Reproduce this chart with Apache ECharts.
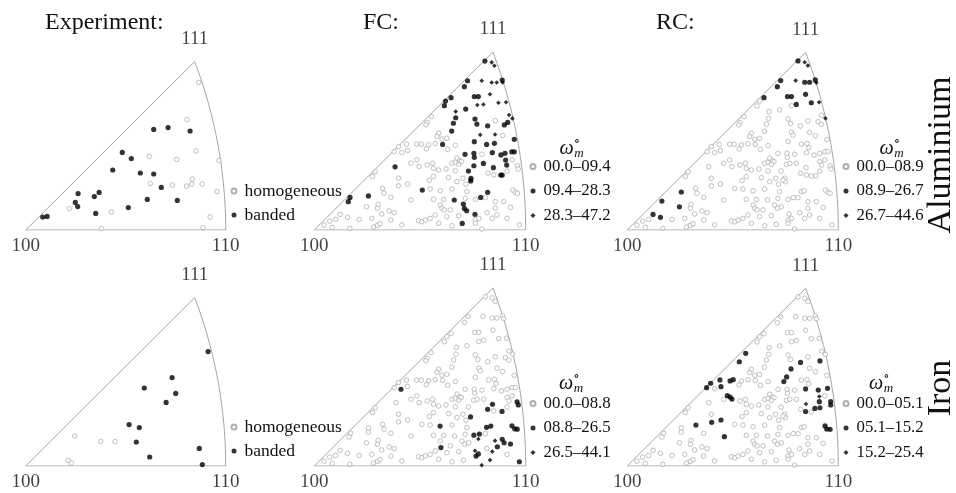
<!DOCTYPE html>
<html>
<head>
<meta charset="utf-8">
<script src="https://cdn.jsdelivr.net/npm/echarts@6/dist/echarts.min.js"></script>
<style>
  html, body { margin: 0; padding: 0; background: #fff; }
  #chart { width: 956px; height: 493px; }
</style>
</head>
<body>
<div id="chart"></div>
<script>
// triangle units: 100 -> (0,0), 110 -> (100,0), 111 -> TOP111
const TOP111 = [84.5, 84.2];

// experiment, aluminium
const expAlHomogeneous = [[86.5,73.8],[80.7,55.2],[85.2,39.5],[96.7,34.8],[61.8,36.8],[75.5,35.3],[62.3,23.3],[73.3,22.5],[80.5,22.0],[83.0,23.0],[83.3,25.5],[88.2,23.0],[95.7,19.2],[21.8,10.7],[42.8,9.0],[92.2,6.5],[37.8,0.8],[88.7,1.2]];
const expAlBanded = [[64.0,50.3],[71.2,51.2],[82.2,49.5],[48.3,38.8],[52.8,35.7],[43.5,30.0],[57.3,28.5],[64.0,28.0],[67.8,21.3],[26.2,18.2],[36.7,18.8],[34.3,16.7],[24.8,13.8],[26.0,11.7],[35.0,8.3],[51.3,11.2],[60.8,15.3],[75.8,14.8],[8.5,6.5],[10.7,6.8]];
// experiment, iron
const expFeHomogeneous = [[24.5,15.0],[37.5,12.3],[44.7,12.2],[21.3,2.8],[22.8,1.5]];
const expFeBanded = [[91.2,57.2],[73.2,44.2],[59.3,39.0],[75.0,36.3],[70.2,31.8],[51.7,20.7],[56.8,19.2],[55.3,12.0],[86.8,8.8],[62.0,4.5],[88.3,0.7]];

// simulated grains: same orientations in all FC / RC panels
const grains = [
  [39.8,39.5],[37.8,37.1],[41.4,36.6],[44.1,37.6],[43.6,40.6],[45.7,31.6],[38.6,30.0],[28.8,27.6],[27.5,25.3],[39.8,24.5],
  [39.8,20.9],[44.1,21.8],[32.3,19.7],[33.0,17.4],[36.2,15.5],[25.6,16.1],[45.7,14.2],[17.2,15.5],[30.2,12.1],[29.9,10.3],
  [35.4,9.0],[37.8,8.2],[31.9,7.6],[36.2,4.7],[27.2,5.5],[21.2,5.0],[7.3,4.2],[10.1,5.0],[4.6,2.3],[8.5,1.2],
  [16.8,0.8],[28.0,1.4],[29.9,2.2],[31.1,3.0],[41.4,2.4],[25.6,18.0],[16.4,13.7],[24.7,11.0],[12.2,7.4],[15.7,6.0],
  [77.8,58.9],[62.7,61.2],[67.2,56.1],[72.2,56.9],[55.3,53.7],[53.4,50.9],[52.8,49.8],[67.0,52.9],[65.9,50.2],[76.2,52.6],
  [77.4,50.4],[85.6,51.7],[90.4,51.3],[92.0,50.1],[58.8,45.8],[58.0,44.3],[60.4,43.0],[62.7,43.4],[77.8,46.3],[78.5,45.0],
  [86.4,46.3],[89.1,44.7],[48.5,40.6],[50.6,40.6],[54.1,40.3],[53.0,38.4],[57.2,40.9],[63.1,38.2],[66.7,40.0],[76.2,41.9],
  [82.5,40.7],[86.0,39.0],[67.5,34.0],[68.7,32.7],[71.4,36.3],[75.7,36.3],[75.9,34.4],[79.3,35.9],[84.9,36.6],[88.5,35.5],
  [91.2,36.3],[93.6,37.1],[95.1,37.1],[48.5,33.2],[49.6,30.0],[53.4,30.8],[56.0,31.6],[56.4,29.2],[65.1,31.6],[66.7,32.1],
  [69.5,32.4],[68.3,31.1],[75.4,31.1],[77.0,31.6],[80.1,31.6],[91.2,32.4],[92.1,30.8],[93.6,33.2],[58.8,28.4],[62.3,28.9],
  [66.7,28.0],[74.6,24.5],[74.9,22.9],[73.8,23.7],[82.2,26.9],[84.9,26.1],[87.2,25.6],[89.3,25.7],[91.2,27.9],[54.4,23.4],
  [56.4,25.3],[63.5,24.8],[67.5,22.9],[70.3,24.5],[71.7,21.7],[50.9,19.7],[54.8,19.4],[59.6,18.6],[65.1,19.4],[72.2,18.2],
  [82.5,18.2],[83.8,18.6],[93.9,18.9],[95.1,17.8],[56.4,14.5],[61.2,14.5],[66.4,14.2],[71.4,15.0],[76.2,14.5],[80.9,15.3],
  [85.6,13.4],[89.6,13.4],[92.8,10.7],[59.6,11.8],[60.4,10.3],[61.5,9.5],[64.3,9.5],[69.8,11.8],[71.1,10.3],[73.0,11.0],
  [85.6,10.3],[54.8,5.5],[57.2,7.1],[62.7,6.3],[68.3,6.8],[76.6,7.6],[81.7,8.2],[86.4,7.1],[84.1,5.5],[49.3,4.4],
  [50.9,3.9],[52.5,4.7],[58.8,3.2],[65.1,2.0],[70.6,2.7],[76.2,4.7],[76.2,3.2],[77.8,5.5],[91.2,5.5],[97.0,2.4],
  [79.3,0.5],[80.9,80.1],[72.7,70.8],[84.1,70.0],[86.4,70.0],[89.1,71.1],[71.1,67.9],[75.9,63.2],[77.8,63.2],[84.5,64.3],
  [64.8,62.7],[80.1,59.5],[87.2,60.3],[84.1,79.5],[85.6,77.9],[79.8,70.8],[89.6,69.8],[90.9,60.5],[93.9,52.9],[61.5,58.8],
  [65.0,46.8],[92.1,54.4],[82.0,49.3],[94.6,42.9],[60.7,40.5],[72.9,27.9],[84.7,29.5],[78.7,15.4],[96.1,30.4],[96.5,28.9],
  [96.1,17.4],[85.2,41.0]
];

// FC aluminium
const fcAlBins = ['00.0–09.4', '09.4–28.3', '28.3–47.2'];
const fcAlMid = [[80.7,79.9],[72.5,70.6],[88.9,70.9],[71.0,67.8],[75.7,63.1],[77.6,63.1],[64.7,62.6],[62.1,61.0],[61.5,58.8],[71.6,57.2],[66.9,53.1],[65.8,50.5],[65.0,46.8],[76.0,52.5],[76.9,50.1],[91.5,50.9],[89.9,49.7],[82.0,49.3],[94.6,42.9],[81.5,40.5],[85.2,41.0],[60.7,40.5],[75.7,41.8],[71.3,35.8],[75.5,36.3],[75.7,34.4],[84.2,36.6],[88.3,35.5],[90.2,36.3],[93.4,37.0],[94.6,37.0],[90.5,33.1],[91.0,30.7],[80.0,31.5],[75.5,30.4],[72.9,27.9],[84.7,29.5],[88.2,26.0],[88.9,26.0],[74.1,24.4],[74.0,23.2],[82.0,17.8],[78.7,15.4],[51.1,18.9],[66.2,14.2],[70.5,12.3],[71.0,10.2],[72.1,9.1],[76.0,7.4],[70.0,3.1],[38.2,29.9],[16.9,15.4],[16.1,13.4],[25.6,16.1]];
const fcAlHigh = [[83.9,79.3],[85.2,77.7],[79.2,70.6],[83.9,69.8],[86.3,69.8],[89.1,69.8],[83.1,64.2],[80.0,59.4],[77.1,59.1],[87.1,60.2],[90.7,60.4],[66.9,56.0],[92.1,54.4],[93.7,52.8],[85.5,45.2],[78.5,45.0]];
// RC aluminium
const rcAlBins = ['00.0–08.9', '08.9–26.7', '26.7–44.6'];
const rcAlMid = [[80.9,80.1],[72.7,70.8],[84.1,70.0],[86.4,70.0],[89.1,71.1],[71.1,67.9],[75.9,63.2],[77.8,63.2],[84.5,64.3],[64.8,62.7],[80.1,59.5],[87.2,60.3],[25.6,18.0],[16.4,13.7],[24.7,11.0],[12.2,7.4],[15.7,6.0]];
const rcAlHigh = [[84.1,79.5],[85.6,77.9],[79.8,70.8],[89.6,69.8],[90.9,60.5],[93.9,52.9]];
// FC iron
const fcFeBins = ['00.0–08.8', '08.8–26.5', '26.5–44.1'];
const fcFeMid = [[41.0,36.3],[95.9,30.4],[96.5,28.9],[84.3,29.2],[82.0,26.8],[88.8,25.8],[73.9,23.2],[59.5,18.9],[75.5,14.6],[78.1,15.1],[81.5,18.3],[83.5,18.9],[93.5,19.0],[94.8,17.6],[96.0,17.4],[88.9,12.6],[89.8,11.0],[86.6,9.1],[92.8,10.4],[59.9,8.7],[77.6,5.7],[76.5,4.7],[97.0,2.0]];
const fcFeHigh = [[77.6,12.8],[85.5,12.0],[76.0,7.2],[84.2,6.8],[83.1,2.8],[79.2,0.4]];
// RC iron
const rcFeBins = ['00.0–05.1', '05.1–15.2', '15.2–25.4'];
const rcFeMid = [[56.1,53.4],[53.1,49.4],[82.1,49.1],[91.3,49.8],[77.6,46.0],[75.5,42.2],[74.2,40.0],[39.5,39.2],[43.9,40.8],[48.7,40.3],[50.2,40.9],[44.4,37.6],[37.6,37.1],[84.5,36.5],[90.5,36.0],[94.9,36.8],[47.4,33.3],[48.7,32.7],[49.6,31.7],[91.0,30.5],[91.3,27.6],[88.9,27.3],[84.5,25.8],[96.4,30.5],[96.4,28.9],[32.5,19.4],[40.0,20.7],[44.4,21.8],[46.0,13.9],[93.7,19.0],[94.5,17.5],[96.1,17.4]];
const rcFeHigh = [[84.7,29.4],[91.0,32.9]];

const expNames = ['homogeneous', 'banded'];

const SERIF = '"Liberation Serif", "DejaVu Serif", serif';
const INK = '#111';
const GREY = '#9a9a9a';

// grains that are not drawn filled in a panel are drawn open
function openGrains(filled) {
  return grains.filter(g => !filled.some(p => Math.hypot(p[0] - g[0], p[1] - g[1]) < 2.2));
}

// outline of the standard triangle, right side is a circular arc 110 -> 111
const cx = (10000 - TOP111[0] * TOP111[0] - TOP111[1] * TOP111[1]) / (200 - 2 * TOP111[0]);
const rad = 100 - cx;
const endAng = Math.atan2(TOP111[1], TOP111[0] - cx);
const edge = [[0, 0], [100, 0]];
for (let i = 1; i < 40; i++) {
  const a = endAng * i / 40;
  edge.push([cx + rad * Math.cos(a), rad * Math.sin(a)]);
}
edge.push(TOP111, [0, 0]);

const panels = [
  { grid: { left: 25.7, top: 61.6, width: 200, height: 168.4 }, exp: [expAlHomogeneous, expAlBanded], legend: [230.5, 182] },
  { grid: { left: 314.3, top: 52, width: 211.4, height: 178 }, bins: fcAlBins, mid: fcAlMid, high: fcAlHigh, legend: [529.5, 158] },
  { grid: { left: 627.3, top: 52.3, width: 211, height: 177.7 }, bins: rcAlBins, mid: rcAlMid, high: rcAlHigh, legend: [842.5, 158] },
  { grid: { left: 25.7, top: 297.6, width: 200, height: 168.4 }, exp: [expFeHomogeneous, expFeBanded], legend: [230.5, 418] },
  { grid: { left: 314.3, top: 288, width: 211.4, height: 178 }, bins: fcFeBins, mid: fcFeMid, high: fcFeHigh, legend: [529.5, 395] },
  { grid: { left: 627.3, top: 288.3, width: 211, height: 177.7 }, bins: rcFeBins, mid: rcFeMid, high: rcFeHigh, legend: [842.5, 395] }
];

const grid = [], xAxis = [], yAxis = [], series = [], legend = [];
const labelFont = { fontFamily: SERIF, fontSize: 19, color: INK };

panels.forEach((p, i) => {
  grid.push(p.grid);
  xAxis.push({ gridIndex: i, type: 'value', min: 0, max: 100, show: false });
  yAxis.push({ gridIndex: i, type: 'value', min: 0, max: TOP111[1], show: false });
  const ax = { xAxisIndex: i, yAxisIndex: i, silent: true, animation: false };

  series.push(Object.assign({
    type: 'line', data: edge, showSymbol: false, symbol: 'none',
    lineStyle: { color: '#a4a4a4', width: 1 }, z: 1
  }, ax));
  series.push(Object.assign({
    type: 'scatter', symbolSize: 0,
    data: [
      { value: [0, 0], label: { show: true, formatter: '100', position: 'bottom', distance: 7, ...labelFont } },
      { value: [100, 0], label: { show: true, formatter: '110', position: 'bottom', distance: 7, ...labelFont } },
      { value: TOP111, label: { show: true, formatter: '111', position: 'top', distance: 13, ...labelFont } }
    ]
  }, ax));

  let names, sets;
  if (p.exp) {
    names = expNames;
    sets = [p.exp[0], p.exp[1]];
  } else {
    names = p.bins;
    sets = [openGrains(p.mid.concat(p.high)), p.mid, p.high];
  }
  series.push(Object.assign({
    name: names[0], type: 'scatter', data: sets[0], symbol: 'circle', symbolSize: 4.6,
    itemStyle: { color: '#fff', borderColor: GREY, borderWidth: 0.75 }, z: 2
  }, ax));
  series.push(Object.assign({
    name: names[1], type: 'scatter', data: sets[1], symbol: 'circle', symbolSize: 5.2,
    itemStyle: { color: '#000' }, z: 3
  }, ax));
  if (sets[2]) {
    series.push(Object.assign({
      name: names[2], type: 'scatter', data: sets[2], symbol: 'diamond', symbolSize: 4.6,
      itemStyle: { color: '#000' }, z: 3
    }, ax));
  }

  const isExp = !!p.exp;
  const icons = ['circle', 'circle', 'diamond'];
  legend.push({
    orient: 'vertical', left: p.legend[0], top: p.legend[1], padding: 0,
    itemWidth: 5, itemHeight: 5, itemGap: isExp ? 6 : 7.5,
    selectedMode: false,
    data: names.map((n, k) => ({ name: n, icon: icons[k] })),
    textStyle: { fontFamily: SERIF, fontSize: isExp ? 17.5 : 16.8, lineHeight: isExp ? 18 : 16,
                 color: INK, padding: [0, 0, 0, 3] }
  });
});

function txt(x, y, text, font, extra) {
  return Object.assign({
    type: 'text', x: x, y: y, silent: true,
    style: { text: text, font: font, fill: INK, align: 'center', verticalAlign: 'middle',
             textAlign: 'center', textVerticalAlign: 'middle' }
  }, extra || {});
}

// omega_m header above each simulated legend
const omegaPos = [[566.5, 149], [886.5, 149], [566, 384], [876, 384]];
const graphic = [];
omegaPos.forEach(([x, y]) => {
  graphic.push(txt(x, y, 'ω', 'italic 20px ' + SERIF));
  graphic.push(txt(x + 10.5, y - 7, '∘', '13px ' + SERIF));
  graphic.push(txt(x + 12.5, y + 5, 'm', 'italic 13px ' + SERIF));
});
graphic.push(txt(941, 155, 'Aluminium', '34px ' + SERIF, { rotation: Math.PI / 2 }));
graphic.push(txt(941, 388, 'Iron', '34px ' + SERIF, { rotation: Math.PI / 2 }));

const titleStyle = { fontFamily: SERIF, fontSize: 24, fontWeight: 'normal', color: INK };
const title = [
  { text: 'Experiment:', left: 45, top: 11, padding: 0, textStyle: titleStyle },
  { text: 'FC:', left: 363, top: 11, padding: 0, textStyle: titleStyle },
  { text: 'RC:', left: 656, top: 11, padding: 0, textStyle: titleStyle }
];

const chart = echarts.init(document.getElementById('chart'));
chart.setOption({
  backgroundColor: '#fff',
  animation: false,
  title: title,
  grid: grid,
  xAxis: xAxis,
  yAxis: yAxis,
  legend: legend,
  graphic: graphic,
  series: series
});
</script>
</body>
</html>
